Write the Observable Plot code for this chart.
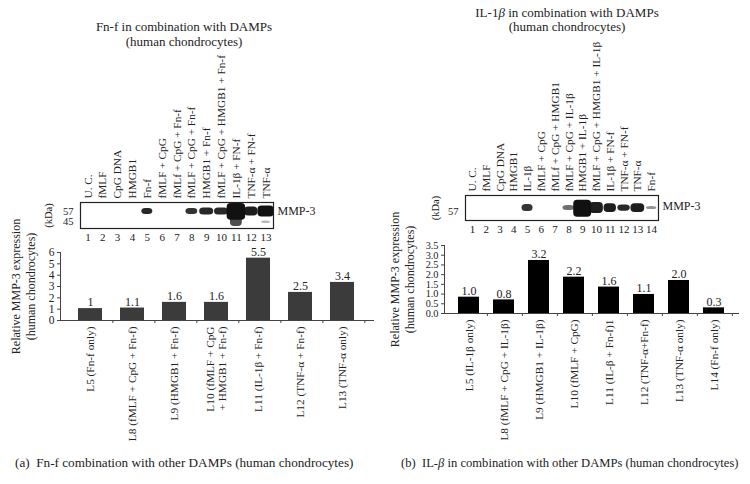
<!DOCTYPE html>
<html>
<head>
<meta charset="utf-8">
<script src="https://cdn.jsdelivr.net/npm/d3@7"></script>
<script src="https://cdn.jsdelivr.net/npm/@observablehq/plot@0.6"></script>
<style>
  body { margin: 0; background: #fff; }
  #root { position: relative; width: 750px; height: 484px; overflow: hidden; font-family: "Liberation Serif", serif; color: #222; background: #fff; }
  .box { position: absolute; }
  .title { position: absolute; text-align: center; font-size: 13px; white-space: nowrap; }
  .caption { position: absolute; top: 455px; white-space: pre; }
</style>
</head>
<body>
<div id="root">
  <div class="title" style="left:84px;top:19px;width:200px;line-height:15px;">Fn-f in combination with DAMPs<br>(human chondrocytes)</div>
  <div class="title" style="left:467px;top:6px;width:200px;line-height:13.5px;">IL-1<i>β</i> in combination with DAMPs<br>(human chondrocytes)</div>
  <div class="box" id="blotA" style="left:30px;top:40px;width:300px;"></div>
  <div class="box" id="blotB" style="left:415px;top:25px;width:300px;"></div>
  <div class="box" id="barA" style="left:0px;top:200px;width:380px;"></div>
  <div class="box" id="barB" style="left:375px;top:195px;width:375px;"></div>
  <div class="caption" style="left:15px;font-size:13.2px;">(a)  Fn-f combination with other DAMPs (human chondrocytes)</div>
  <div class="caption" style="left:401px;font-size:12.6px;top:456px;">(b)  IL-<i>β</i> in combination with other DAMPs (human chondrocytes)</div>
</div>
<script>
// ---------- Panel (a) blot ----------
const laneNamesA = ["U. C.", "fMLF", "CpG DNA", "HMGB1", "Fn-f", "fMLF + CpG", "fMLf + CpG + Fn-f",
  "fMLF + CpG + Fn-f", "HMGB1 + Fn-f", "fMLF + CpG + HMGB1 + Fn-f", "IL-1β + FN-f", "TNF-α + FN-f", "TNF-α"];
const laneNumsA = [1,2,3,4,5,6,7,8,9,10,11,12,13];
const kdaTicksA = [57, 45];
// bands read from blot: lane, width (lanes), centre (kDa), height (kDa), density
const bandLaneA = [5, 8, 9, 10, 11, 11, 12, 13, 13];
const bandWidthA = [0.74, 0.8, 0.95, 0.95, 1.25, 0.8, 0.9, 1.1, 0.6];
const bandKdaA = [57, 57, 57, 57, 56.5, 45, 57, 57, 44];
const bandHeightA = [7, 7, 8.5, 8.5, 20, 12, 11, 13, 3];
const bandDensityA = [0.9, 0.85, 0.9, 0.9, 1, 0.75, 0.95, 1, 0.3];

// ---------- Panel (a) bars ----------
const catsA = ["L5 (Fn-f only)", "L8 (fMLF + CpG + Fn-f)", "L9 (HMGB1 + Fn-f)", "L10 (fMLF + CpG\n+ HMGB1 + Fn-f)",
  "L11 (IL-1β + Fn-f)", "L12 (TNF-α + Fn-f)", "L13 (TNF-α only)"];
const valsA = [1.05, 1.1, 1.6, 1.6, 5.5, 2.48, 3.36];
const valLabelsA = ["1", "1.1", "1.6", "1.6", "5.5", "2.5", "3.4"];
const yTicksA = [0, 1, 2, 3, 4, 5, 6];

// ---------- Panel (b) blot ----------
const laneNamesB = ["U. C.", "fMLF", "CpG DNA", "HMGB1", "IL-1β", "fMLF + CpG", "fMLf + CpG + HMGB1",
  "fMLF + CpG + IL-1β", "HMGB1 + IL-1β", "fMLF + CpG + HMGB1 + IL-1β", "IL-1β + FN-f", "TNF-α + FN-f", "TNF-α", "Fn-f"];
const laneNumsB = [1,2,3,4,5,6,7,8,9,10,11,12,13,14];
const kdaTicksB = [57];
const bandLaneB = [5, 8, 9, 10, 11, 12, 13, 14];
const bandWidthB = [0.8, 0.85, 1.3, 1.0, 0.9, 0.9, 1.0, 0.75];
const bandKdaB = [60, 60, 59.5, 60, 60, 60, 60, 60];
const bandHeightB = [5.6, 4, 13.6, 8.8, 7, 5, 7, 2.4];
const bandDensityB = [0.85, 0.6, 1, 0.95, 0.95, 0.9, 0.95, 0.45];

// ---------- Panel (b) bars ----------
const catsB = ["L5 (IL-1β only)", "L8 (fMLF + CpG + IL-1β)", "L9 (HMGB1 + IL-1β)", "L10 (fMLF + CpG)",
  "L11 (IL-β + Fn-f)1", "L12 (TNF-α+Fn-f)", "L13 (TNF-α only)", "L14 (Fn-f only)"];
const valsB = [0.84, 0.7, 2.73, 1.87, 1.36, 0.98, 1.7, 0.29];
const valLabelsB = ["1.0", "0.8", "3.2", "2.2", "1.6", "1.1", "2.0", "0.3"];
const yTicksB = [0, 0.5, 1, 1.5, 2, 2.5, 3, 3.5];

const yLabel = "Relative MMP-3 expression\n(human chondrocytes)";
const bandName = "MMP-3";
const FONT = "Liberation Serif";

function bands(lanes, widths, kdas, heights, dens) {
  return lanes.map((l, i) => ({lane: l, w: widths[i], kda: kdas[i], h: heights[i], d: dens[i]}));
}

function blot({names, nums, ticks, bandData, labelKda, width, height, mt, mb, ml, mr, ydomain, labelOffset, laneFont}) {
  const svg = Plot.plot({
    width, height, marginTop: mt, marginBottom: mb, marginLeft: ml, marginRight: mr,
    style: {fontFamily: FONT, fontSize: "11px", color: "#222", background: "transparent", overflow: "visible"},
    x: {domain: [0.5, nums.length + 0.5], axis: null},
    y: {domain: ydomain, axis: null},
    marks: [
      Plot.rect(bandData, {x1: d => d.lane - d.w / 2, x2: d => d.lane + d.w / 2,
        y1: d => d.kda - d.h / 2, y2: d => d.kda + d.h / 2, fill: "#111", fillOpacity: d => d.d, rx: 4}),
      Plot.frame({stroke: "#222", strokeWidth: 1.2}),
      Plot.axisX({anchor: "top", ticks: nums, tickFormat: i => names[i - 1], tickRotate: -90,
        tickSize: 0, tickPadding: 4, textAnchor: "start", fontSize: laneFont, label: null}),
      Plot.axisX({anchor: "bottom", ticks: nums, tickFormat: d => String(d), tickSize: 0, tickPadding: 5,
        fontSize: 11, label: null}),
      Plot.axisY({anchor: "left", ticks, tickFormat: d => String(d), tickSize: 0, tickPadding: 7, fontSize: 10.5,
        label: "(kDa)", labelAnchor: "center", labelOffset, labelArrow: "none"}),
      Plot.text([labelKda], {y: d => d, text: () => bandName, frameAnchor: "right", textAnchor: "start",
        dx: 4, fontSize: 12})
    ]
  });
  d3.select(svg).selectAll('g[aria-label="rect"] rect').style("filter", "blur(0.6px)");
  return svg;
}

function bars({cats, vals, labels, yticks, ydomain, fill, width, height, mt, mb, ml, mr, padding, fmt, labelDx, yFont}) {
  const inner = width - ml - mr;
  const step = inner / cats.length;
  return Plot.plot({
    width, height, marginTop: mt, marginBottom: mb, marginLeft: ml, marginRight: mr,
    style: {fontFamily: FONT, fontSize: "11.5px", color: "#222", background: "transparent", overflow: "visible"},
    x: {domain: cats, padding, axis: null},
    y: {domain: ydomain, axis: null},
    marks: [
      Plot.barY(vals, {x: (d, i) => cats[i], y: d => d, fill}),
      Plot.text(vals, {x: (d, i) => cats[i], y: d => d, text: (d, i) => labels[i], dy: -6, fontSize: 12}),
      Plot.frame({anchor: "left", stroke: "#444"}),
      Plot.frame({anchor: "bottom", stroke: "#444"}),
      Plot.axisY({ticks: yticks, tickFormat: fmt, tickSize: 3, tickPadding: 3, fontSize: yFont, stroke: "#444",
        label: null}),
      Plot.text([yLabel], {text: d => d, frameAnchor: "left", rotate: -90, dx: labelDx, lineHeight: 1.25,
        textAnchor: "middle", fontSize: 12}),
      Plot.axisX({ticks: cats, tickFormat: () => "", tickSize: 3, dx: step / 2, stroke: "#444", label: null}),
      Plot.axisX({ticks: cats, tickRotate: -90, tickSize: 0, tickPadding: 6, textAnchor: "end", fontSize: 11.3,
        lineHeight: 1.05, label: null})
    ]
  });
}

document.getElementById("blotA").append(blot({
  names: laneNamesA, nums: laneNumsA, ticks: kdaTicksA, labelKda: 57,
  bandData: bands(bandLaneA, bandWidthA, bandKdaA, bandHeightA, bandDensityA),
  width: 300, height: 210, mt: 162, mb: 22, ml: 50, mr: 57, ydomain: [36.6, 67.8], labelOffset: 36, laneFont: 11.3
}));

document.getElementById("blotB").append(blot({
  names: laneNamesB, nums: laneNumsB, ticks: kdaTicksB, labelKda: 61.5,
  bandData: bands(bandLaneB, bandWidthB, bandKdaB, bandHeightB, bandDensityB),
  width: 300, height: 210, mt: 170, mb: 15, ml: 50, mr: 57, ydomain: [50, 70], labelOffset: 34, laneFont: 11.3
}));

document.getElementById("barA").append(bars({
  cats: catsA, vals: valsA, labels: valLabelsA, yticks: yTicksA, ydomain: [0, 6], fill: "#3b3b3b",
  width: 380, height: 252, mt: 52, mb: 132, ml: 60, mr: 7, padding: 0.42, fmt: d => String(d), labelDx: -38, yFont: 11.5
}));

document.getElementById("barB").append(bars({
  cats: catsB, vals: valsB, labels: valLabelsB, yticks: yTicksB, ydomain: [0, 3.5], fill: "#000",
  width: 375, height: 252, mt: 50, mb: 134, ml: 69, mr: 12, padding: 0.4, fmt: d3.format(".1f"), labelDx: -43, yFont: 10.3
}));
</script>
</body>
</html>
